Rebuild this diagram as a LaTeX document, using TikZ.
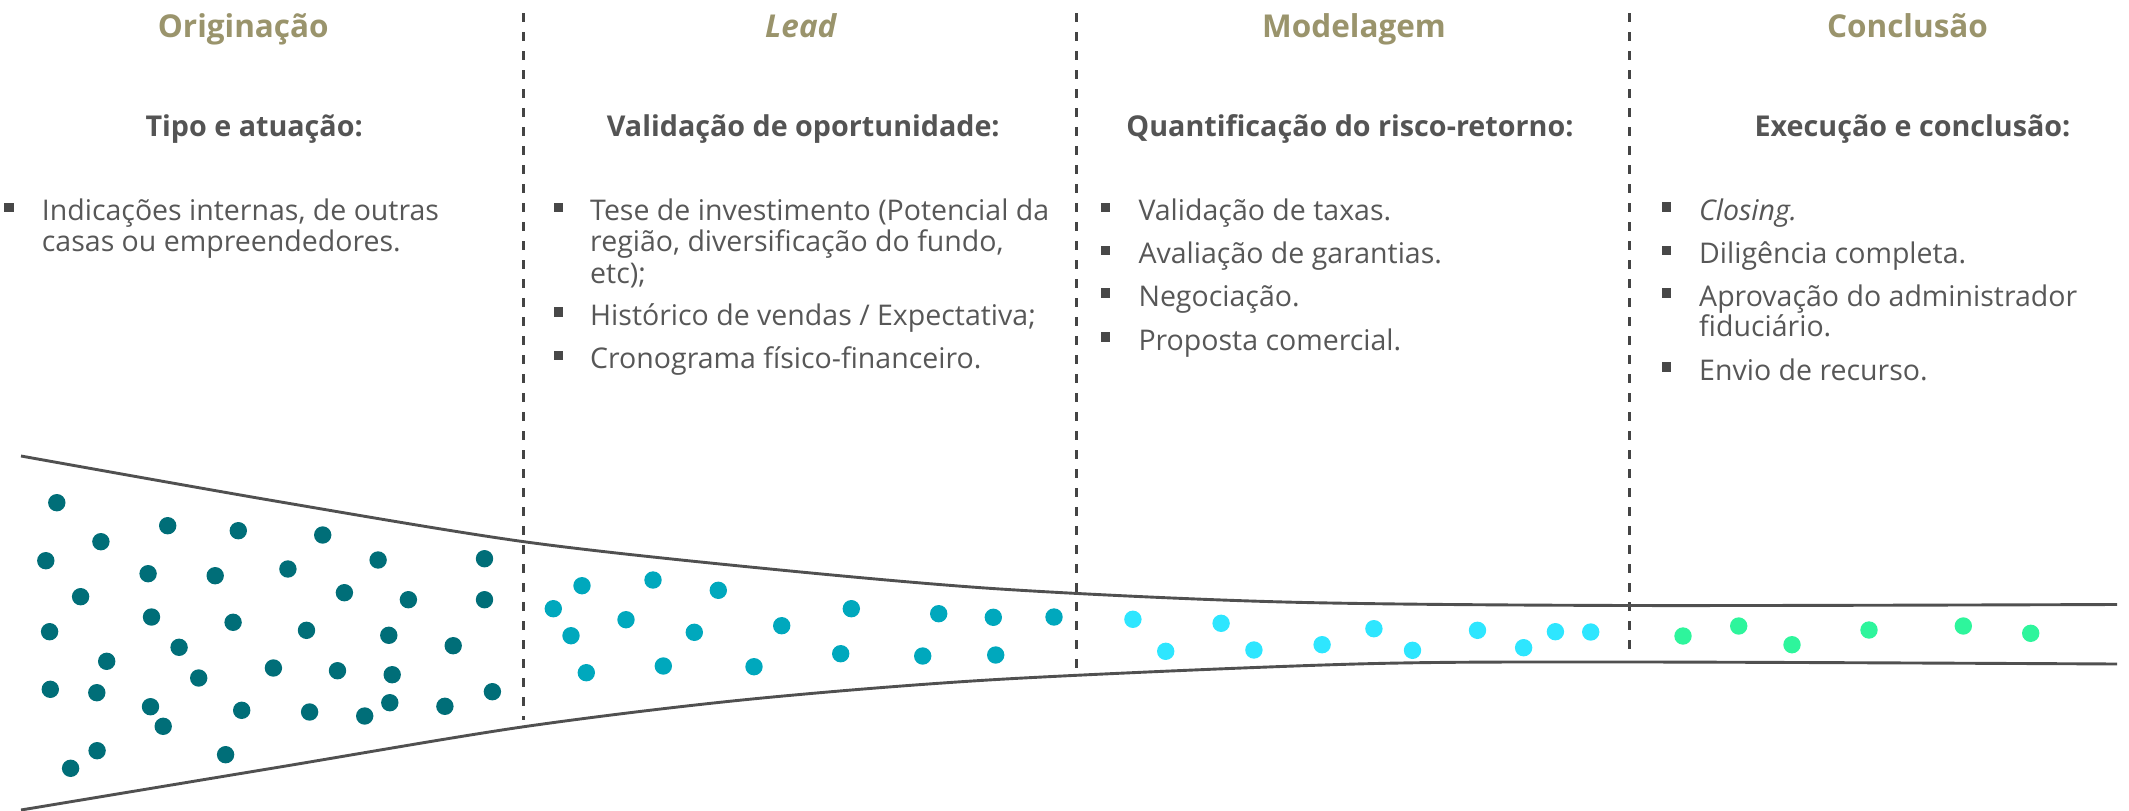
\documentclass[tikz,border=0pt]{standalone}
\usepackage{fontspec}
\setmainfont{Open Sans}
\definecolor{titlecol}{HTML}{9A946C}
\definecolor{subcol}{HTML}{545454}
\definecolor{bodycol}{HTML}{575757}
\definecolor{bulcol}{HTML}{484848}
\definecolor{linecol}{HTML}{505050}
\definecolor{dashcol}{HTML}{444444}
\definecolor{dotA}{HTML}{006E78}
\definecolor{dotB}{HTML}{00A8BD}
\definecolor{dotC}{HTML}{2EE6FF}
\definecolor{dotD}{HTML}{2EF59C}
\begin{document}
\begin{tikzpicture}[x=1pt,y=-1pt,
  title/.style={anchor=base, text=titlecol, inner sep=0, font=\fontsize{31.5}{36}\selectfont\bfseries},
  subhead/.style={anchor=base, text=subcol, inner sep=0, font=\fontsize{28.7}{34}\selectfont\bfseries},
  body/.style={anchor=base west, text=bodycol, inner sep=0, font=\fontsize{28.5}{31}\selectfont},
  bul/.style={rectangle, fill=bulcol, minimum size=9.5pt, inner sep=0},
  divider/.style={draw=dashcol, line width=2.3pt, dash pattern=on 8.5pt off 10.5pt},
  funnel/.style={draw=linecol, line width=2.9pt},
  dA/.style={fill=dotA}, dB/.style={fill=dotB}, dC/.style={fill=dotC}, dD/.style={fill=dotD}]
\useasboundingbox (0,0) rectangle (2129,811);

% dividers
\coordinate (d1t) at (523.5,13); \coordinate (d1b) at (523.5,720);
\coordinate (d2t) at (1076.5,13); \coordinate (d2b) at (1076.5,668);
\coordinate (d3t) at (1629.5,13); \coordinate (d3b) at (1629.5,657);
\draw[divider] (d1t) -- (d1b);
\draw[divider] (d2t) -- (d2b);
\draw[divider] (d3t) -- (d3b);

% funnel
\draw[funnel] plot[smooth, tension=0.5] coordinates {(21,456) (275,501) (524,541.7) (760,568) (1000,589) (1284,602) (1630,605.5) (2117,604.5)};
\draw[funnel] plot[smooth, tension=0.5] coordinates {(21,810) (275,767.8) (524,726.7) (749,699.3) (1000,679.3) (1356,664) (1630,662) (2117,664)};

% titles
\node[title] (t1) at (243.3,37.5) {Originação};
\node[title] (t2) at (800.8,37.5) {\itshape Lead};
\node[title] (t3) at (1354,37.5) {Modelagem};
\node[title] (t4) at (1907.5,37.5) {Conclusão};

% subheads
\node[subhead] (s1) at (254.2,136) {Tipo e atuação:};
\node[subhead] (s2) at (803.3,136) {Validação de oportunidade:};
\node[subhead] (s3) at (1350,136) {Quantificação do risco-retorno:};
\node[subhead] (s4) at (1912.5,136) {Execução e conclusão:};

% column 1
\node[bul] (b11) at (9,207.7) {};
\node[body] (l11) at (41.7,220.7) {Indicações internas, de outras};
\node[body] (l12) at (41.7,251.7) {casas ou empreendedores.};

% column 2
\node[bul] (b21) at (558.7,207.7) {};
\node[body] (l21) at (590,220.7) {Tese de investimento (Potencial da};
\node[body] (l22) at (590,251.7) {região, diversificação do fundo,};
\node[body] (l23) at (590,283) {etc);};
\node[bul] (b22) at (558.7,312) {};
\node[body] (l24) at (590,325) {Histórico de vendas / Expectativa;};
\node[bul] (b23) at (558.7,355.3) {};
\node[body] (l25) at (590,368.3) {Cronograma físico-financeiro.};

% column 3
\node[bul] (b31) at (1105.7,207.7) {};
\node[body] (l31) at (1138.3,220.7) {Validação de taxas.};
\node[bul] (b32) at (1105.7,250.3) {};
\node[body] (l32) at (1138.3,263.3) {Avaliação de garantias.};
\node[bul] (b33) at (1105.7,293) {};
\node[body] (l33) at (1138.3,306) {Negociação.};
\node[bul] (b34) at (1105.7,337) {};
\node[body] (l34) at (1138.3,350) {Proposta comercial.};

% column 4
\node[bul] (b41) at (1666.7,207) {};
\node[body] (l41) at (1699,220) {\itshape Closing.};
\node[bul] (b42) at (1666.7,250.3) {};
\node[body] (l42) at (1699,263.3) {Diligência completa.};
\node[bul] (b43) at (1666.7,293) {};
\node[body] (l43) at (1699,306) {Aprovação do administrador};
\node[body] (l44) at (1699,336.7) {fiduciário.};
\node[bul] (b44) at (1666.7,367) {};
\node[body] (l45) at (1699,380) {Envio de recurso.};

% dots - Originação
\foreach \p in {(56.8,502.7),(100.9,541.7),(167.7,525.7),(238.3,530.7),(322.7,535),
  (45.8,560.7),(148.1,573.7),(215.2,575.7),(287.9,569),(378.1,560),(484.5,558.7),
  (80.6,596.7),(344.4,592.7),(408.4,599.7),(484.5,599.7),(49.6,631.7),(151.5,617),
  (233.1,622.3),(306.5,630.3),(388.8,635.3),(453.2,645.7),(106.7,661.3),(179.1,647.3),
  (198.7,678),(273.4,668),(337.5,670.7),(392.2,674.7),(50.3,689.3),(96.8,692.7),
  (150.5,706.7),(241.7,710.3),(309.6,712),(364.7,716),(389.8,702.7),(444.9,706.3),
  (492.4,691.7),(163.2,726.3),(97.1,750.7),(70.6,768.3),(225.6,754.7)}
  \fill[dA] \p circle (8.7);
% dots - Lead
\foreach \p in {(582,585.7),(653,580),(718.3,590.3),(553.3,608.7),(626,619.7),
  (851.3,608.7),(938.7,613.7),(993.3,617.3),(1054,617),(571,635.7),(694.3,632.3),
  (781.7,625.7),(840.7,653.7),(922.7,656),(995.7,655),(586.3,672.7),(663.3,666),(754,666.7)}
  \fill[dB] \p circle (8.7);
% dots - Modelagem
\foreach \p in {(1132.9,619.3),(1165.7,651.3),(1221.1,623.3),(1253.9,650),(1322.1,644.7),
  (1373.9,628.7),(1412.5,650.3),(1477.5,630.3),(1523.6,647.7),(1555.4,631.7),(1590.7,632)}
  \fill[dC] \p circle (8.7);
% dots - Conclusão
\foreach \p in {(1683,636),(1738.7,626),(1792,644.7),(1869,630),(1963.3,626),(2030.7,633.3)}
  \fill[dD] \p circle (8.7);
\end{tikzpicture}
\end{document}
